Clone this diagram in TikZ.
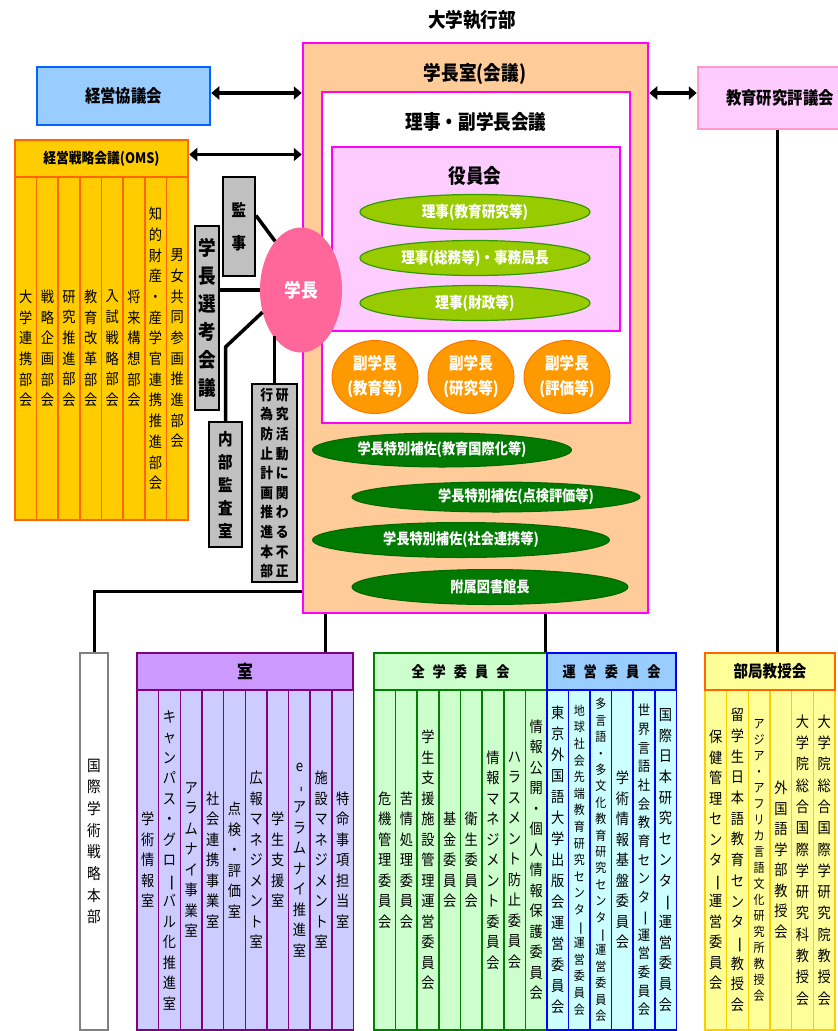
\documentclass[tikz,border=0pt]{standalone}
\usepackage{fontspec}
\setmainfont{Noto Sans CJK JP}[FakeStretch=0.88]
\usepackage{graphicx}
\usetikzlibrary{shapes.geometric,arrows.meta}
\definecolor{peach}{HTML}{FFCC99}
\definecolor{mag}{HTML}{FF00FF}
\definecolor{pinkL}{HTML}{FFCCFF}
\definecolor{lgreen}{HTML}{99CC00}
\definecolor{lgreenB}{HTML}{339900}
\definecolor{orng}{HTML}{FF9900}
\definecolor{orngB}{HTML}{FF7700}
\definecolor{dgreen}{HTML}{007A00}
\definecolor{dgreenB}{HTML}{006600}
\definecolor{gpink}{HTML}{FF6699}
\definecolor{grayF}{HTML}{C0C0C0}
\definecolor{kblue}{HTML}{99CCFF}
\definecolor{kblueB}{HTML}{0066FF}
\definecolor{omsF}{HTML}{FFCC00}
\definecolor{omsB}{HTML}{FF6600}
\definecolor{hyoF}{HTML}{FFCCFF}
\definecolor{hyoB}{HTML}{FF99CC}
\definecolor{shH}{HTML}{CC99FF}
\definecolor{shB}{HTML}{800080}
\definecolor{shC}{HTML}{CCCCFF}
\definecolor{zgF}{HTML}{CCFFCC}
\definecolor{zgB}{HTML}{008000}
\definecolor{unH}{HTML}{99CCFF}
\definecolor{unB}{HTML}{0000FF}
\definecolor{unC}{HTML}{CCFFFF}
\definecolor{bkF}{HTML}{FFFF99}
\definecolor{bkB}{HTML}{FF6600}
\definecolor{bkC}{HTML}{FFCC00}
\definecolor{kokB}{HTML}{808080}

\ExplSyntaxOn
\cs_new_protected:Npn \vtx_char:n #1
  {
    \str_case:nnF {#1}
      {
        {ー}{\hbox_to_wd:nn {1em} {\hss\rotatebox[origin=c]{-90}{\scalebox{1.3}[1]{ー}}\hss}}
        {-}{\hbox_to_wd:nn {1em} {\hss\rotatebox[origin=c]{-90}{\scalebox{1.3}[1]{-}}\hss}}
      }
      {\hbox_to_wd:nn {1em} {\hss #1 \hss}}
  }
\NewDocumentCommand\VT{O{20.5}m}
  {
    \vbox{\baselineskip=#1pt\lineskiplimit=-100pt\lineskip=0pt
      \exp_args:No \tl_map_inline:nn {#2} {\vtx_char:n {##1}}}
  }
\ExplSyntaxOff

\tikzset{
  box/.style={draw, rectangle, inner sep=0pt, line width=2.5pt},
  col/.style={draw, rectangle, inner sep=0pt, line width=1.6pt, font=\fontsize{15}{18}\selectfont},
  hd/.style={font=\bfseries\fontsize{#1}{#1}\selectfont, inner sep=0pt},
  gbox/.style={draw=black, fill=grayF, rectangle, inner sep=0pt, line width=2pt},
  ell/.style={ellipse, inner sep=0pt},
  lg/.style={ell, fill=lgreen, draw=lgreenB, line width=1.2pt, minimum width=230pt, minimum height=35pt, text=white, font=\bfseries\fontsize{15.5}{16}\selectfont},
  dg/.style={ell, fill=dgreen, draw=dgreenB, line width=1pt, text=white, font=\bfseries\fontsize{15}{16}\selectfont},
  vp/.style={ell, fill=orng, draw=orngB, line width=1pt, minimum width=86pt, minimum height=73pt, text=white, align=center, font=\bfseries\fontsize{16.5}{25}\selectfont},
  conn/.style={draw=black, line width=3.5pt},
  bconn/.style={draw=black, line width=3pt},
  dbl/.style={draw=black, line width=3.5pt, {Triangle[length=8pt,width=13pt]}-{Triangle[length=8pt,width=13pt]}},
}

\begin{document}
\begin{tikzpicture}[x=1pt,y=-1pt]
\useasboundingbox[fill=white] (0,0) rectangle (838,1031);

% ---------- executive block ----------
\node[hd=20] (title) at (472,20) {大学執行部};
\node[box, draw=mag, fill=peach, minimum width=345pt, minimum height=570pt] (exec) at (475.5,328) {};
\node[hd=20] (execT) at (475,74) {学長室(会議)};
\node[box, draw=mag, fill=white, minimum width=308pt, minimum height=331pt] (riji) at (476,257.5) {};
\node[hd=20] (rijiT) at (476,122) {理事・副学長会議};
\node[box, draw=mag, fill=pinkL, minimum width=288pt, minimum height=184pt] (yakuin) at (476,239) {};
\node[hd=20] (yakuinT) at (475,176) {役員会};
\node[lg] (r1) at (475,212) {理事(教育研究等)};
\node[lg] (r2) at (475,258) {理事(総務等)・事務局長};
\node[lg] (r3) at (475,303) {理事(財政等)};
\node[vp] (v1) at (375,377) {副学長\\(教育等)};
\node[vp] (v2) at (471,377) {副学長\\(研究等)};
\node[vp] (v3) at (567,377) {副学長\\(評価等)};
\node[dg, minimum width=259pt, minimum height=34pt] (s1) at (442,450) {学長特別補佐(教育国際化等)};
\node[dg, minimum width=288pt, minimum height=30pt] (s2) at (496,497) {\hspace*{40pt}学長特別補佐(点検評価等)};
\node[dg, minimum width=297pt, minimum height=35pt] (s3) at (461,540) {学長特別補佐(社会連携等)};
\node[dg, minimum width=276pt, minimum height=35pt] (lib) at (490,587) {附属図書館長};

% ---------- president and staff ----------
\node[gbox, minimum width=32pt, minimum height=99pt, hd=16.5] (kanji) at (239,226.5) {\VT[33]{監事}};
\node[gbox, minimum width=24pt, minimum height=184pt, hd=20] (senko) at (207,318) {\VT[28]{学長選考会議}};
\node[gbox, minimum width=33pt, minimum height=125pt, hd=16.5] (naibu) at (225.5,484.5) {\VT[23]{内部監査室}};
\node[gbox, minimum width=45pt, minimum height=198pt, hd=14.5] (kenkyu) at (274.5,483)
  {\hbox{\VT[19.6]{行為防止計画推進本部}\kern1pt\VT[19.6]{研究活動に関わる不正}}};
\node[ell, fill=gpink, minimum width=82pt, minimum height=125pt, text=white, hd=19] (gakucho) at (301,290) {学長};
\draw[conn] ([yshift=11pt]kanji.east) -- (gakucho.118);
\draw[conn] (senko.east |- gakucho.west) -- (gakucho.west);
\draw[conn] (naibu.north) -- ++(0,-74) -- (gakucho.210);
\draw[conn] (kenkyu.north) -- ++(0,-47);

% ---------- left councils ----------
\node[box, draw=kblueB, fill=kblue, minimum width=173pt, minimum height=58pt, hd=17.5] (keiei) at (123.5,96) {経営協議会};
\draw[dbl] ([yshift=3pt]keiei.east) -- ([yshift=3pt]keiei.east -| exec.west);

\foreach \t [count=\i] in {大学連携部会,戦略企画部会,研究推進部会,教育改革部会,入試戦略部会,将来構想部会,知的財産・産学官連携推進部会,男女共同参画推進部会}
  \node[col, draw=omsB, fill=omsF, minimum width=21.625pt, minimum height=343pt] (oms\i) at ({15+(\i-0.5)*21.625},348.5) {\VT[20.7]{\t}};
\node[box, draw=omsB, fill=omsF, minimum width=173pt, minimum height=37pt, hd=14.5] (omsH) at (101.5,158.5) {経営戦略会議(OMS)};
\draw[dbl] ([yshift=4pt]omsH.east) -- ([yshift=4pt]omsH.east -| exec.west);

% ---------- right council ----------
\node[box, draw=hyoB, fill=hyoF, minimum width=164pt, minimum height=62pt, hd=17.5] (hyo) at (780,98) {教育研究評議会};
\draw[dbl] ([yshift=5pt]hyo.west) -- ([yshift=5pt]hyo.west -| exec.east);

% ---------- bottom: kokusai ----------
\node[box, draw=kokB, fill=white, minimum width=28pt, minimum height=377pt, font=\fontsize{15.5}{18}\selectfont] (kokusai) at (94,841.5) {\VT[21.7]{国際学術戦略本部}};
\draw[bconn] (exec.west |- 0,591) -| (kokusai.north);

% ---------- bottom: shitsu ----------
\foreach \t [count=\i] in {学術情報室,キャンパス・グローバル化推進室,アラムナイ事業室,社会連携事業室,点検・評価室,広報マネジメント室,学生支援室,e-アラムナイ推進室,施設マネジメント室,特命事項担当室}
  \node[col, draw=shB, fill=shC, minimum width=21.66pt, minimum height=340pt] (sh\i) at ({137+(\i-0.5)*21.66},860) {\VT[20.5]{\t}};
\node[box, draw=shB, fill=shH, minimum width=216pt, minimum height=37pt, hd=18] (shHd) at (245,671.5) {室};
\draw[bconn] ([xshift=80pt]shHd.north) -- ([xshift=80pt]shHd.north |- exec.south);

% ---------- bottom: zengaku ----------
\foreach \t [count=\i] in {危機管理委員会,苦情処理委員会,学生支援施設管理運営委員会,基金委員会,衛生委員会,情報マネジメント委員会,ハラスメント防止委員会,情報公開・個人情報保護委員会}
  \node[col, draw=zgB, fill=zgF, minimum width=21.625pt, minimum height=340pt] (zg\i) at ({374+(\i-0.5)*21.625},860) {\VT[20.5]{\t}};
\node[box, draw=zgB, fill=zgF, minimum width=173pt, minimum height=37pt, hd=15] (zgHd) at (460.5,671.5) {全\kern8pt 学\kern8pt 委\kern8pt 員\kern8pt 会};

% ---------- bottom: unei ----------
\foreach \t/\s/\f [count=\i] in {東京外国語大学出版会運営委員会/21/15, 地球社会先端教育研究センター運営委員会/16.6/12.5, 多言語・多文化教育研究センター運営委員会/16.4/12.5, 学術情報基盤委員会/20.5/15, 世界言語社会教育センター運営委員会/18.7/14, 国際日本研究センター運営委員会/20.7/15}
  \node[col, draw=unB, fill=unC, minimum width=21.55pt, minimum height=340pt, font=\fontsize{\f}{\f}\selectfont] (un\i) at ({547+(\i-0.5)*21.55},860) {\VT[\s]{\t}};
\node[box, draw=unB, fill=unH, minimum width=129pt, minimum height=37pt, hd=15] (unHd) at (611.5,671.5) {運\kern8pt 営\kern8pt 委\kern8pt 員\kern8pt 会};
\draw[bconn] (unHd.north west) -- (unHd.north west |- exec.south);

% ---------- bottom: bukyoku ----------
\foreach \t/\s/\f [count=\i] in {保健管理センター運営委員会/20.5/15, 留学生日本語教育センター教授会/20.7/15, アジア・アフリカ言語文化研究所教授会/16/12.5, 外国語学部教授会/20.5/15, 大学院総合国際学研究科教授会/21.3/15, 大学院総合国際学研究院教授会/21.3/15}
  \node[col, draw=bkC, fill=bkF, minimum width=21.67pt, minimum height=340pt, font=\fontsize{\f}{\f}\selectfont] (bk\i) at ({705+(\i-0.5)*21.67},860) {\VT[\s]{\t}};
\node[box, draw=bkB, fill=bkF, minimum width=130pt, minimum height=37pt, hd=16.5] (bkHd) at (770,671.5) {部局教授会};
\draw[bconn] ([xshift=7pt]bkHd.north) -- ([xshift=7pt]bkHd.north |- hyo.south);
\end{tikzpicture}
\end{document}
